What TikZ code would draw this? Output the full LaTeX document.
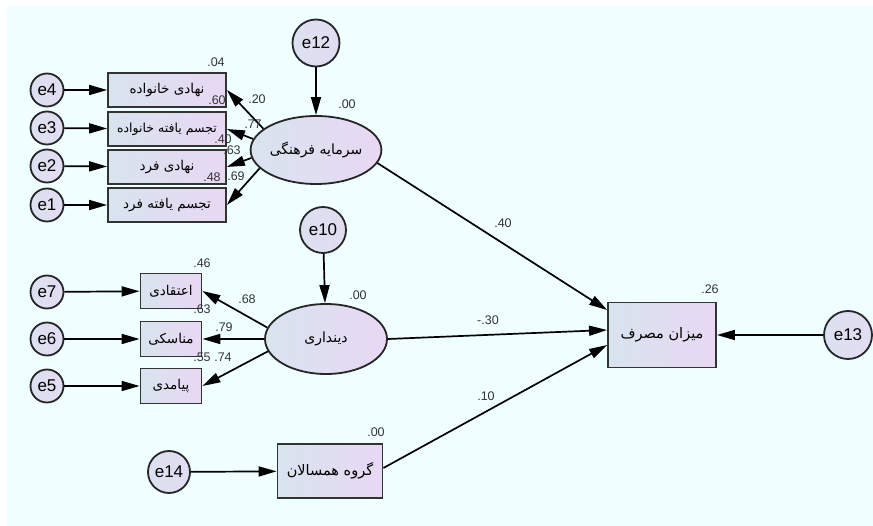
\documentclass[tikz,border=0pt]{standalone}
\usepackage{fontspec}
\setmainfont{Liberation Sans}
\newfontfamily\farsi[Script=Arabic]{DejaVu Sans}
\TeXXeTstate=1
\usetikzlibrary{shapes.geometric,arrows.meta}
\definecolor{bgcol}{HTML}{F0FFFF}
\definecolor{shadeL}{HTML}{D8E4EE}
\definecolor{shadeR}{HTML}{E8D8F4}
\definecolor{ringfill}{HTML}{E2DCF2}
\definecolor{inkgray}{HTML}{333333}
\tikzstyle{err}=[
    draw = black!85,
    line width = 1.8pt,
    left color = shadeL!60!ringfill,
    right color = ringfill,
    circle,
    inner sep = 0pt,
    font = \fontsize{17}{19}\selectfont
]
\tikzstyle{obs}=[
    draw = black!80,
    line width = 1.8pt,
    left color = shadeL,
    right color = shadeR,
    rectangle,
    inner sep = 0pt,
    font = \fontsize{13.5}{15}\farsi
]
\tikzstyle{lat}=[
    draw = black!85,
    line width = 1.8pt,
    left color = shadeL,
    right color = shadeR,
    ellipse,
    inner sep = 0pt,
    font = \fontsize{14}{16}\farsi
]
\tikzstyle{est}=[
    text = inkgray,
    inner sep = 0pt,
    font = \fontsize{12.5}{14}\selectfont
]

\begin{document}
\begin{tikzpicture}[x=1pt, y=-1pt, path/.style = {line width=1.7pt, -{Triangle[length=18pt,width=10pt]}}]
        \useasboundingbox (0,0) rectangle (873,526);
        \fill[white] (0,0) rectangle (873,526);
        \fill[bgcol] (7,6) rectangle (873,526);

        % cultural capital
        \node[lat, minimum width=120pt, minimum height=68pt] (cap) at (316,150) {\beginR سرمایه فرهنگی\endR};
        \node[err, minimum size=47pt] (e12) at (316,43) {e12};
        \node[obs, minimum width=118pt, minimum height=34pt] (b4) at (167,90) {\beginR نهادی خانواده\endR};
        \node[obs, minimum width=118pt, minimum height=34pt, font=\fontsize{12.5}{14}\farsi] (b3) at (167,129) {\beginR تجسم یافته خانواده\endR};
        \node[obs, minimum width=118pt, minimum height=34pt] (b2) at (167,167) {\beginR نهادی فرد\endR};
        \node[obs, minimum width=118pt, minimum height=34pt] (b1) at (167,205) {\beginR تجسم یافته فرد\endR};
        \node[err, minimum size=33pt] (e4) at (47,90) {e4};
        \node[err, minimum size=33pt] (e3) at (47,128) {e3};
        \node[err, minimum size=33pt] (e2) at (47,166) {e2};
        \node[err, minimum size=33pt] (e1) at (47,205) {e1};

        % religiosity
        \node[lat, minimum width=122pt, minimum height=70pt] (rel) at (326,339) {\beginR دینداری\endR};
        \node[err, minimum size=46pt] (e10) at (323,230) {e10};
        \node[obs, minimum width=61pt, minimum height=35pt] (k1) at (171,291) {\beginR اعتقادی\endR};
        \node[obs, minimum width=61pt, minimum height=35pt] (k2) at (171,339) {\beginR مناسکی\endR};
        \node[obs, minimum width=61pt, minimum height=35pt] (k3) at (171,386) {\beginR پیامدی\endR};
        \node[err, minimum size=33pt] (e7) at (47,292) {e7};
        \node[err, minimum size=33pt] (e6) at (47,339) {e6};
        \node[err, minimum size=33pt] (e5) at (47,386) {e5};

        % outcome and peers
        \node[obs, minimum width=108pt, minimum height=65pt, font=\fontsize{14.5}{16}\farsi] (cons) at (662,335) {\beginR میزان مصرف\endR};
        \node[err, minimum size=48pt] (e13) at (848,335) {e13};
        \node[obs, minimum width=105pt, minimum height=54pt, font=\fontsize{14.5}{16}\farsi] (peer) at (330,471) {\beginR گروه همسالان\endR};
        \node[err, minimum size=42pt] (e14) at (169,472) {e14};

        \draw[path] (e12) -- (cap);
        \draw[path] (cap.158) -- (b4.east);
        \draw[path] (cap.170) -- (b3.east);
        \draw[path] (cap.187) -- (b2.east);
        \draw[path] (cap.198) -- (b1.east);
        \draw[path] (e4) -- (b4);
        \draw[path] (e3) -- (b3);
        \draw[path] (e2) -- (b2);
        \draw[path] (e1) -- (b1);

        \draw[path] (e10) -- (rel);
        \draw[path] (rel.169) -- (k1.east);
        \draw[path] (rel.180) -- (k2.east);
        \draw[path] (rel.192) -- (k3.east);
        \draw[path] (e7) -- (k1);
        \draw[path] (e6) -- (k2);
        \draw[path] (e5) -- (k3);

        \draw[path] (cap.348) -- ([yshift=25pt]cons.west);
        \draw[path] (rel.east) -- ([yshift=5pt]cons.west);
        \draw[path] ([yshift=3pt]peer.east) -- ([yshift=-10pt]cons.west);
        \draw[path] (e13) -- (cons);
        \draw[path] (e14) -- (peer);

        % estimates
        \node[est] (v04) at (216,62) {.04};
        \node[est] (v60) at (217,100) {.60};
        \node[est] (v40) at (223,139) {.40};
        \node[est] (v48) at (212,177) {.48};
        \node[est] (p20) at (257,99) {.20};
        \node[est] (p77) at (253,124) {.77};
        \node[est] (p63) at (232,150) {.63};
        \node[est] (p69) at (236,176) {.69};
        \node[est] (vcap) at (347,104) {.00};
        \node[est] (v46) at (202,263) {.46};
        \node[est] (v63) at (202,309) {.63};
        \node[est] (v55) at (202,357) {.55};
        \node[est] (p68) at (247,299) {.68};
        \node[est] (p79) at (224,327) {.79};
        \node[est] (p74) at (223,357) {.74};
        \node[est] (vrel) at (358,295) {.00};
        \node[est] (p40) at (503,223) {.40};
        \node[est] (p30) at (488,320) {-.30};
        \node[est] (p10) at (486,396) {.10};
        \node[est] (v26) at (710,289) {.26};
        \node[est] (vpeer) at (376,432) {.00};

    \end{tikzpicture}
\end{document}
